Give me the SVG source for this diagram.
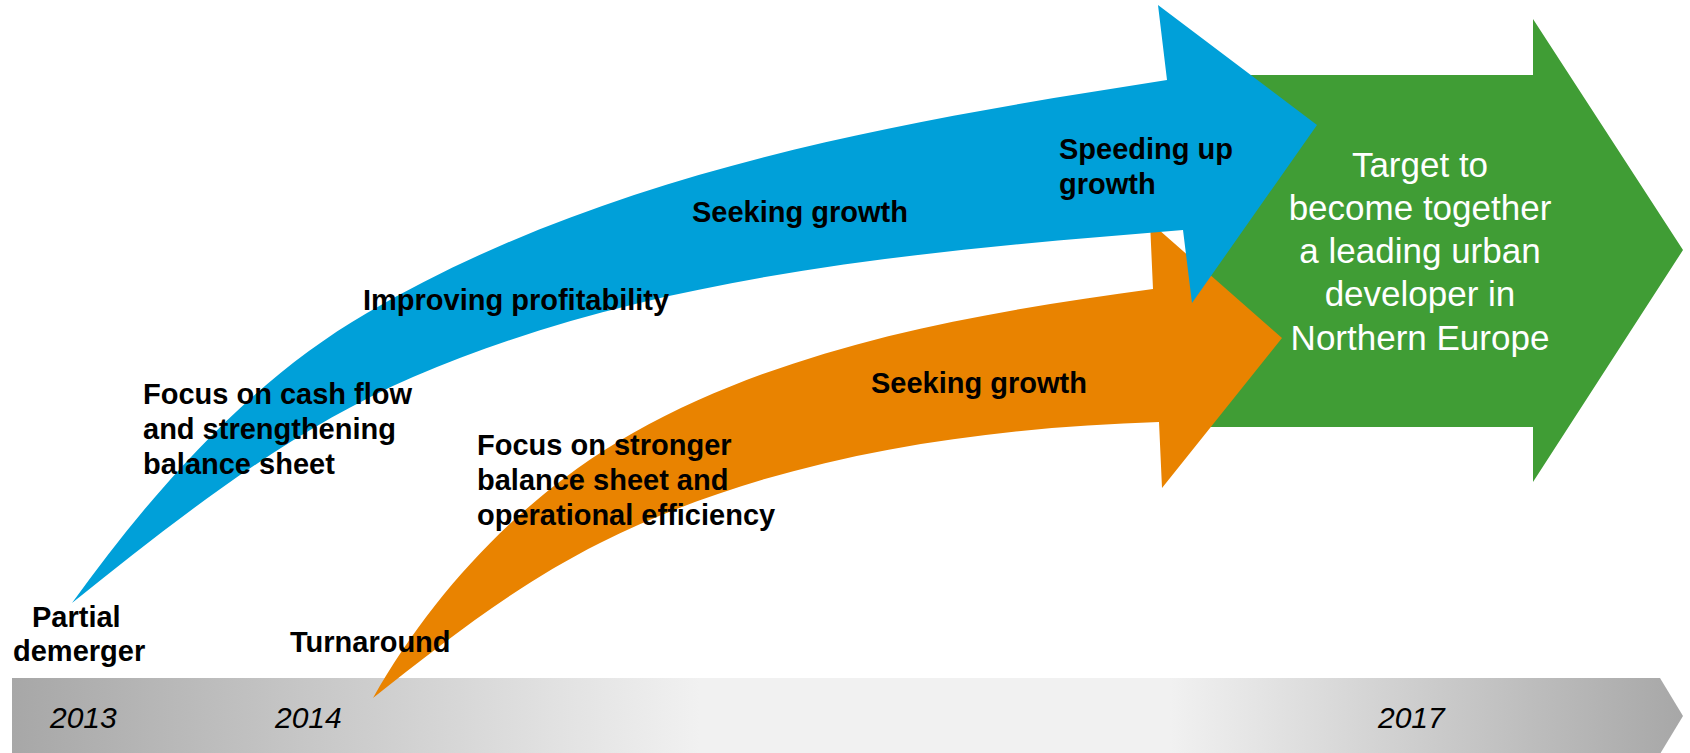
<svg xmlns="http://www.w3.org/2000/svg" width="1690" height="753" viewBox="0 0 1690 753">
  <defs>
    <linearGradient id="barGrad" gradientUnits="userSpaceOnUse" x1="12" y1="0" x2="1683" y2="0">
      <stop offset="0" stop-color="#a7a7a7"/>
      <stop offset="0.412" stop-color="#f1f1f1"/>
      <stop offset="0.693" stop-color="#f1f1f1"/>
      <stop offset="1" stop-color="#a7a7a7"/>
    </linearGradient>
    <style>
      .lbl { font-family: "Liberation Sans", Arial, sans-serif; font-weight: bold; font-size: 29px; fill: #000; }
      .year { font-family: "Liberation Sans", Arial, sans-serif; font-style: italic; font-size: 30px; fill: #000; }
      .goal { font-family: "Liberation Sans", Arial, sans-serif; font-size: 35px; fill: #ffffff; text-anchor: middle; }
    </style>
  </defs>
  <rect width="1690" height="753" fill="#ffffff"/>

  <g id="timeline">
    <path d="M12,678 L1660,678 L1683,716 L1660,754 L12,754 Z" fill="url(#barGrad)"/>
    <text class="year" x="50" y="728">2013</text>
    <text class="year" x="275" y="728">2014</text>
    <text class="year" x="1378" y="728">2017</text>
  </g>

  <g id="arrow-green">
    <path d="M1195,75 L1533,75 L1533,19 L1683,250 L1533,482 L1533,427 L1195,427 Z" fill="#409d35"/>
    <text class="goal" x="1420" y="177">Target to</text>
    <text class="goal" x="1420" y="220">become together</text>
    <text class="goal" x="1420" y="263">a leading urban</text>
    <text class="goal" x="1420" y="306">developer in</text>
    <text class="goal" x="1420" y="350">Northern Europe</text>
  </g>

  <g id="arrow-orange">
    <path d="M373,698 C434,590 525,494 633,433 C790,345 975,313 1153,289 L1150,222 L1282,338 L1162,488 L1159,422 C969,428 770,458 600,543 C518,584 445,641 373,698 Z" fill="#e98300"/>
  </g>

  <g id="arrow-blue">
    <path d="M72,603 C153,491 248,382 367,313 C609,172 890,123 1167,80 L1158,5 L1317,125 L1192,303 L1183,230 C924,251 652,274 413,377 C288,431 178,518 72,603 Z" fill="#00a0d9"/>
  </g>

  <g id="labels">
    <g id="label-partial-demerger">
      <text class="lbl" x="32" y="627">Partial</text>
      <text class="lbl" x="13" y="661">demerger</text>
    </g>
    <g id="label-turnaround">
      <text class="lbl" x="290" y="652">Turnaround</text>
    </g>
    <g id="label-cash-flow">
      <text class="lbl" x="143" y="404">Focus on cash flow</text>
      <text class="lbl" x="143" y="439">and strengthening</text>
      <text class="lbl" x="143" y="474">balance sheet</text>
    </g>
    <g id="label-profitability">
      <text class="lbl" x="363" y="310">Improving profitability</text>
    </g>
    <g id="label-seeking-blue">
      <text class="lbl" x="692" y="222">Seeking growth</text>
    </g>
    <g id="label-speeding">
      <text class="lbl" x="1059" y="159">Speeding up</text>
      <text class="lbl" x="1059" y="194">growth</text>
    </g>
    <g id="label-stronger">
      <text class="lbl" x="477" y="455">Focus on stronger</text>
      <text class="lbl" x="477" y="490">balance sheet and</text>
      <text class="lbl" x="477" y="525">operational efficiency</text>
    </g>
    <g id="label-seeking-orange">
      <text class="lbl" x="871" y="393">Seeking growth</text>
    </g>
  </g>
</svg>
